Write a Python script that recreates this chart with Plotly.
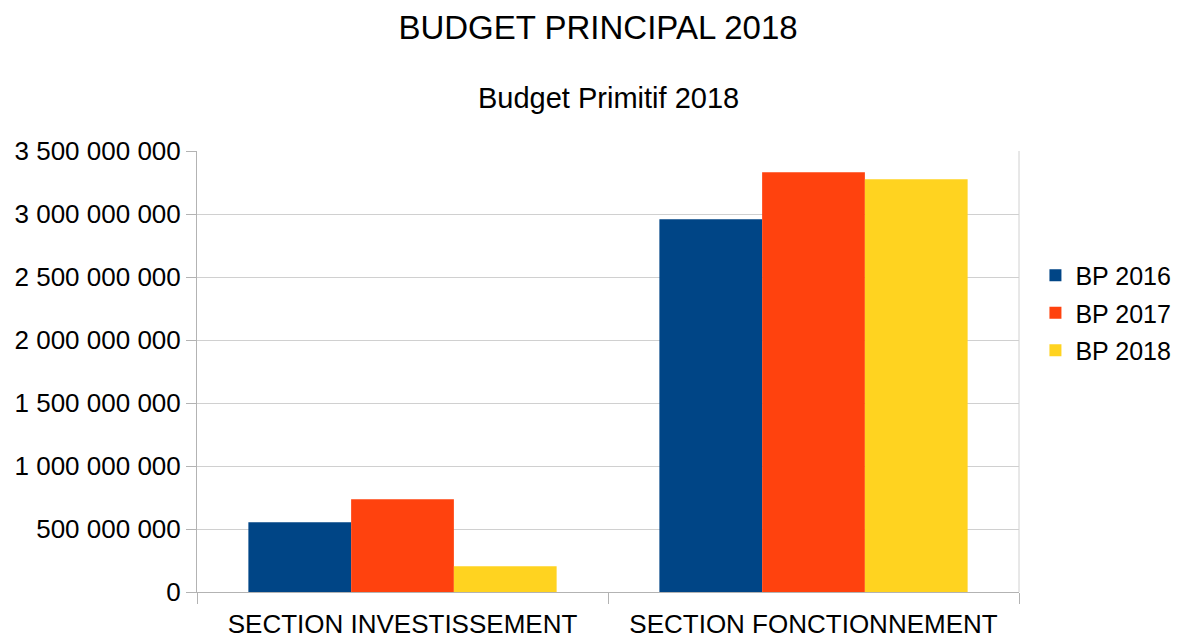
import plotly.graph_objects as go

categories = ["SECTION INVESTISSEMENT", "SECTION FONCTIONNEMENT"]
series_names = ["BP 2016", "BP 2017", "BP 2018"]
bp2016 = [553_000_000, 2_958_000_000]
bp2017 = [736_000_000, 3_331_000_000]
bp2018 = [204_000_000, 3_275_000_000]
colors = ["#004586", "#ff420e", "#ffd320"]
y_ticks = [0, 500_000_000, 1_000_000_000, 1_500_000_000, 2_000_000_000,
           2_500_000_000, 3_000_000_000, 3_500_000_000]

FONT = "Liberation Sans, Arial, sans-serif"
W, H = 1173, 630  # page body has 8px default margin

fig = go.Figure()
for name, vals, col in zip(series_names, [bp2016, bp2017, bp2018], colors):
    fig.add_trace(go.Bar(name=name, x=categories, y=vals, legendgroup=name,
                         marker=dict(color=col, line=dict(width=0))))

fig.update_layout(
    width=W, height=H,
    paper_bgcolor="white", plot_bgcolor="white",
    margin=dict(l=189, r=162, t=143, b=46, autoexpand=False),
    barmode="group", bargap=0.25, bargroupgap=0,
    separators=", ",
    font=dict(family=FONT, size=26, color="black"),
    title=dict(text="BUDGET PRINCIPAL 2018", x=(598 - 8) / W, xanchor="center",
               y=1 - 19 / H, yanchor="middle", font=dict(size=33, color="black")),
    legend=dict(x=1.02, y=0.6325, xanchor="left", yanchor="middle",
                font=dict(size=25), itemwidth=30, traceorder="grouped",
                tracegroupgap=2, borderwidth=0),
    annotations=[dict(text="Budget Primitif 2018", xref="paper", yref="paper",
                      x=0.5, y=(592 - 98) / 441, xanchor="center", yanchor="middle",
                      showarrow=False, font=dict(size=29, color="black"))],
)
fig.update_xaxes(type="category", tickson="boundaries", ticks="outside", ticklen=11,
                 tickcolor="#b3b3b3", showline=True, linecolor="#b3b3b3", linewidth=1,
                 showgrid=False, tickfont=dict(size=26), automargin=False,
                 ticklabelstandoff=9)
fig.update_yaxes(range=[0, 3_500_000_000], tickvals=y_ticks, tickformat=",d",
                 ticks="outside", ticklen=10, tickcolor="#b3b3b3",
                 showline=True, linecolor="#b3b3b3", linewidth=1,
                 showgrid=True, gridcolor="#d0d0d0", gridwidth=1,
                 zeroline=False, tickfont=dict(size=26), automargin=False)
# right border line of plot area
fig.add_shape(type="line", xref="paper", yref="paper", x0=1, x1=1, y0=0, y1=1,
              line=dict(color="#d0d0d0", width=1))

fig.write_html("out.html")
